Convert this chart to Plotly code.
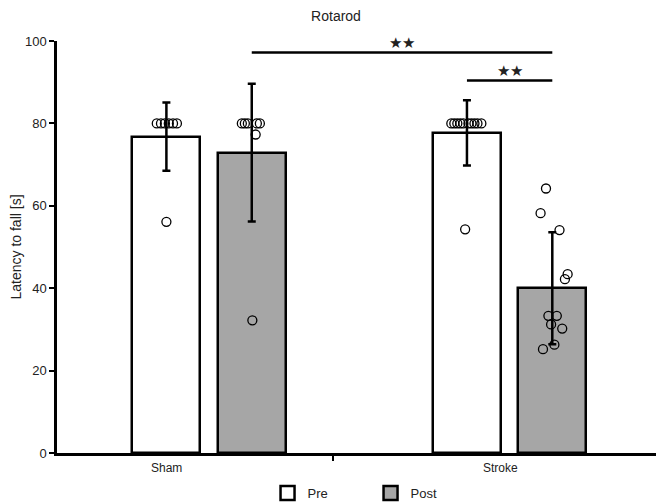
import plotly.graph_objects as go

# ---- data ----
groups = ["Sham", "Stroke"]
pre_mean = [76.8, 77.7]
pre_sd = [8.3, 7.9]
post_mean = [72.9, 40.0]
post_sd = [16.7, 13.6]

sham_pre_pts = [80, 80, 80, 80, 80, 80, 56.1]
sham_pre_jit = [-0.032, -0.018, -0.005, 0.008, 0.022, 0.035, 0.0]
sham_post_pts = [80, 80, 80, 80, 80, 77.3, 32.2]
sham_post_jit = [-0.033, -0.023, -0.013, 0.017, 0.027, 0.013, 0.002]
stroke_pre_pts = [80, 80, 80, 80, 80, 80, 80, 80, 80, 80, 54.3]
stroke_pre_jit = [-0.052, -0.042, -0.032, -0.022, -0.012, 0.005, 0.015, 0.025, 0.035, 0.048, -0.006]
stroke_post_pts = [64.2, 58.2, 54.1, 43.4, 42.2, 33.3, 33.3, 31.2, 30.2, 26.3, 25.2]
stroke_post_jit = [-0.021, -0.039, 0.024, 0.051, 0.042, -0.013, 0.015, -0.004, 0.033, 0.007, -0.031]

title = "Rotarod"
ytitle = "Latency to fall [s]"
sig_label = "★★"

# layout constants
OFF = 0.142
BW = 0.226
LABEL_X = [-0.143, 0.968]

pre_x = [i - OFF for i in range(len(groups))]
post_x = [i + OFF for i in range(len(groups))]

fig = go.Figure()
err_style = dict(type="data", color="black", thickness=2.5, width=4)
fig.add_trace(go.Bar(
    x=pre_x, y=pre_mean, width=BW, name="Pre", showlegend=False,
    marker=dict(color="white", line=dict(color="black", width=2.5)),
    error_y=dict(array=pre_sd, **err_style),
))
fig.add_trace(go.Bar(
    x=post_x, y=post_mean, width=BW, name="Post", showlegend=False,
    marker=dict(color="#a6a6a6", line=dict(color="black", width=2.5)),
    error_y=dict(array=post_sd, **err_style),
))

pts_sets = [
    (pre_x[0], sham_pre_pts, sham_pre_jit),
    (post_x[0], sham_post_pts, sham_post_jit),
    (pre_x[1], stroke_pre_pts, stroke_pre_jit),
    (post_x[1], stroke_post_pts, stroke_post_jit),
]
for cx, vals, jit in pts_sets:
    fig.add_trace(go.Scatter(
        x=[cx + j for j in jit], y=vals, mode="markers", showlegend=False,
        marker=dict(symbol="circle-open", size=9, color="black", line=dict(width=1.3)),
        cliponaxis=False, hoverinfo="skip",
    ))

# legend entries (square swatches)
for name, col in [("Pre", "white"), ("Post", "#a6a6a6")]:
    fig.add_trace(go.Scatter(
        x=[None], y=[None], mode="markers", name=name,
        marker=dict(symbol="square", size=14, color=col, line=dict(color="black", width=2.5)),
    ))

# significance brackets
sig = [
    (post_x[0], post_x[1], 97.2),
    (pre_x[1], post_x[1], 90.4),
]
for x0, x1, yv in sig:
    fig.add_shape(type="line", xref="x", yref="y", x0=x0, x1=x1, y0=yv, y1=yv,
                  line=dict(color="black", width=2.5))
    fig.add_annotation(x=(x0 + x1) / 2, y=yv, xref="x", yref="y", text=sig_label,
                       showarrow=False, yanchor="bottom", yshift=0,
                       font=dict(size=15, color="#222"))

for gx, g in zip(LABEL_X, groups):
    fig.add_annotation(x=gx, y=-0.036, xref="x", yref="paper", text=g,
                       showarrow=False, yanchor="middle",
                       font=dict(size=12, color="#222"))

fig.update_layout(
    width=656, height=495,
    margin=dict(l=49, r=2, t=33, b=50, autoexpand=False),
    plot_bgcolor="white", paper_bgcolor="white",
    font=dict(family="Liberation Sans, Arial, sans-serif", color="#222"),
    title=dict(text=title, x=0.5, xanchor="center", y=0.994, yanchor="top",
               pad=dict(t=0), font=dict(size=14, color="#222")),
    showlegend=True,
    legend=dict(orientation="h", x=0.348, xanchor="left", y=-0.097, yanchor="middle",
                font=dict(size=13, color="#222"), entrywidth=58,
                itemsizing="trace"),
    bargap=0,
)
fig.update_xaxes(range=[-0.506, 1.507], showline=True, linecolor="black", linewidth=2.5,
                 tickvals=[0.413, 1.507], ticktext=["", ""], ticks="outside",
                 ticklen=5, tickwidth=2, tickcolor="black", showgrid=False, zeroline=False,
                 automargin=False)
fig.update_yaxes(range=[0, 100], showline=True, linecolor="black", linewidth=2.5,
                 tickvals=[0, 20, 40, 60, 80, 100], ticks="outside", ticklen=5,
                 tickwidth=2, tickcolor="black", showgrid=False, zeroline=False,
                 tickfont=dict(size=13, color="#222"), automargin=False,
                 title=dict(text=ytitle, font=dict(size=14, color="#222"), standoff=8))

fig.write_html("out.html")
